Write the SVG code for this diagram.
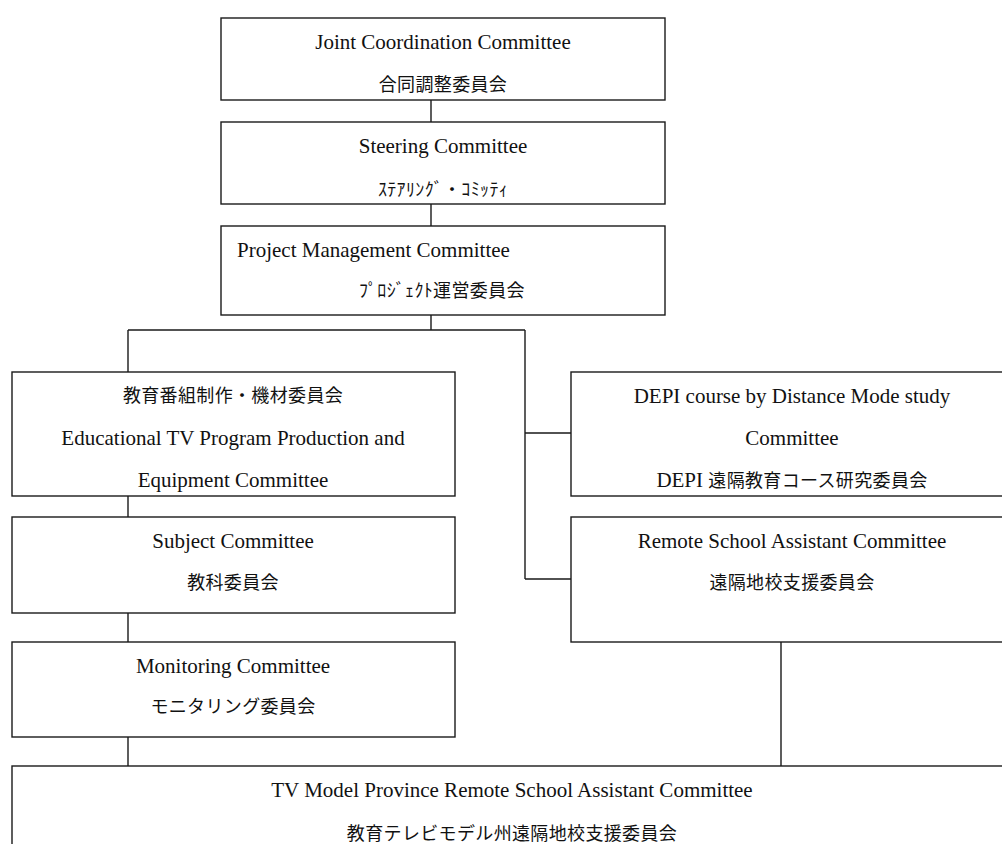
<svg xmlns="http://www.w3.org/2000/svg" width="1002" height="844" viewBox="0 0 1002 844">
<style>
.box{fill:#fff;stroke:#1a1a1a;stroke-width:1.4}
.ln{fill:none;stroke:#1a1a1a;stroke-width:1.4}
.en{font-family:"Liberation Serif","Noto Sans CJK JP",serif;font-size:21px;fill:#111}
.jp{font-family:"Noto Sans CJK JP","Liberation Serif",sans-serif;font-size:18px;letter-spacing:0.35px;fill:#111}
.c{text-anchor:middle}
</style>
<rect width="1002" height="844" fill="#fff"/>
<g id="connectors">
<path class="ln" d="M431 100V122M431 204V226M431 315V330M128 330H525M128 330V372M128 496V517M128 613V642M128 737V766M525 330V579M525 433H571M525 579H571M781 642V766"/>
</g>
<g id="joint">
<rect class="box" x="221" y="18" width="444" height="82"/>
<text class="en c" x="443" y="49">Joint Coordination Committee</text>
<text class="jp c" x="443" y="91">合同調整委員会</text>
</g>
<g id="steering">
<rect class="box" x="221" y="122" width="444" height="82"/>
<text class="en c" x="443" y="153">Steering Committee</text>
<text class="jp c" x="443" y="196">ｽﾃｱﾘﾝｸﾞ・ｺﾐｯﾃｨ</text>
</g>
<g id="pmc">
<rect class="box" x="221" y="226" width="444" height="89"/>
<text class="en" x="237" y="257">Project Management Committee</text>
<text class="jp" x="359" y="297">ﾌﾟﾛｼﾞｪｸﾄ運営委員会</text>
</g>
<g id="edutv">
<rect class="box" x="12" y="372" width="443" height="124"/>
<text class="jp c" x="233" y="402">教育番組制作・機材委員会</text>
<text class="en c" x="233" y="445">Educational TV Program Production and</text>
<text class="en c" x="233" y="487">Equipment Committee</text>
</g>
<g id="subject">
<rect class="box" x="12" y="517" width="443" height="96"/>
<text class="en c" x="233" y="548">Subject Committee</text>
<text class="jp c" x="233" y="589">教科委員会</text>
</g>
<g id="monitoring">
<rect class="box" x="12" y="642" width="443" height="95"/>
<text class="en c" x="233" y="673">Monitoring Committee</text>
<text class="jp c" x="233" y="713">モニタリング委員会</text>
</g>
<g id="depi">
<rect class="box" x="571" y="372" width="443" height="124"/>
<text class="en c" x="792" y="403">DEPI course by Distance Mode study</text>
<text class="en c" x="792" y="445">Committee</text>
<text class="c" x="792" y="487"><tspan class="en">DEPI </tspan><tspan class="jp">遠隔教育コース研究委員会</tspan></text>
</g>
<g id="remote">
<rect class="box" x="571" y="517" width="443" height="125"/>
<text class="en c" x="792" y="548">Remote School Assistant Committee</text>
<text class="jp c" x="792" y="589">遠隔地校支援委員会</text>
</g>
<g id="tvmodel">
<rect class="box" x="12" y="766" width="1004" height="100"/>
<text class="en c" x="512" y="797">TV Model Province Remote School Assistant Committee</text>
<text class="jp c" x="512" y="840">教育テレビモデル州遠隔地校支援委員会</text>
</g>
</svg>
